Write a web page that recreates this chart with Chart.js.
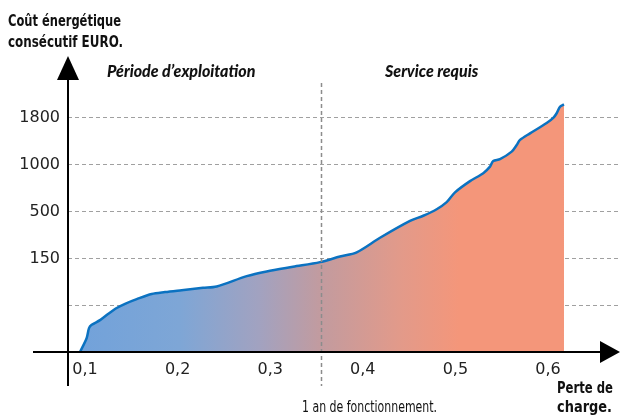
<!DOCTYPE html>
<html lang="fr">
<head>
<meta charset="utf-8">
<title>Coût énergétique consécutif</title>
<script src="https://cdn.jsdelivr.net/npm/chart.js@4/dist/chart.umd.min.js"></script>
<style>
    html, body { margin: 0; padding: 0; background: #ffffff; }
    #wrap { width: 620px; height: 416px; }
</style>
</head>
<body>
<div id="wrap"><canvas id="chart" width="620" height="416"></canvas></div>
<script>
/*
|--------------------------------------------------------------------------
| Coût énergétique / perte de charge
|--------------------------------------------------------------------------
|
| Courbe en aire, axe Y en paliers (150, 500, 1000, 1800).
|
*/

// abscisses : perte de charge
const perteDeCharge = [
    0.0946, 0.1018, 0.1043, 0.1072, 0.1162, 0.1248, 0.1342, 0.1432, 0.1558, 0.1720,
    0.1864, 0.2044, 0.2274, 0.2422, 0.2746, 0.2962, 0.3246, 0.3538, 0.3754, 0.3934,
    0.4186, 0.4510, 0.4653, 0.4798, 0.4906, 0.4996, 0.5158, 0.5301, 0.5374, 0.5409,
    0.5482, 0.5608, 0.5662, 0.5698, 0.5806, 0.5986, 0.6057, 0.6094, 0.6130, 0.6173
];

// ordonnées : position sur l'échelle en paliers
const niveauCout = [
    0.00, 0.30, 0.51, 0.58, 0.68, 0.81, 0.94, 1.03, 1.13, 1.24,
    1.28, 1.32, 1.37, 1.40, 1.62, 1.72, 1.82, 1.92, 2.04, 2.13,
    2.44, 2.80, 2.91, 3.05, 3.20, 3.41, 3.65, 3.82, 3.96, 4.08,
    4.12, 4.28, 4.42, 4.53, 4.67, 4.89, 5.00, 5.10, 5.24, 5.29
];

const xTicks = [0.1, 0.2, 0.3, 0.4, 0.5, 0.6];
const xTickLabels = ["0,1", "0,2", "0,3", "0,4", "0,5", "0,6"];

const yTicks = [0, 1, 2, 3, 4, 5];
const yTickLabels = ["", "", "150", "500", "1000", "1800"];

const unAnDeFonctionnement = 0.355;

const NARROW = '"Liberation Sans Narrow", "DejaVu Sans Condensed", "Arial Narrow", sans-serif';

function degradeRemplissage(context) {

    const chart = context.chart;

    if (!chart.chartArea) return "#76a3d8";

    const x = chart.scales.x;
    const x0 = x.getPixelForValue(perteDeCharge[0]);
    const x1 = x.getPixelForValue(perteDeCharge[perteDeCharge.length - 1]);

    const g = chart.ctx.createLinearGradient(x0, 0, x1, 0);

    g.addColorStop(0, "#72a2da");
    g.addColorStop(0.206, "#7ea6d6");
    g.addColorStop(0.371, "#a2a2c0");
    g.addColorStop(0.497, "#c29b9f");
    g.addColorStop(0.66, "#e29a8a");
    g.addColorStop(0.784, "#f4967a");
    g.addColorStop(1, "#f4967a");

    return g;

}

// axes fléchés, repère "1 an" et textes
const habillage = {

    id: "habillage",

    afterDatasetsDraw(chart) {

        const { ctx } = chart;
        const x = chart.scales.x;
        const px = Math.round(x.getPixelForValue(unAnDeFonctionnement)) + 0.5;

        ctx.save();
        ctx.strokeStyle = "#8c8c8c";
        ctx.lineWidth = 1.5;
        ctx.setLineDash([4, 3]);
        ctx.beginPath();
        ctx.moveTo(px, 83);
        ctx.lineTo(px, 386);
        ctx.stroke();
        ctx.restore();

    },

    afterDraw(chart) {

        const { ctx } = chart;
        const x = chart.scales.x;
        const y = chart.scales.y;

        const ox = x.left;
        const oy = y.getPixelForValue(0);

        ctx.save();

        // axes
        ctx.strokeStyle = "#000";
        ctx.fillStyle = "#000";
        ctx.lineWidth = 2;
        ctx.beginPath();
        ctx.moveTo(ox, 78);
        ctx.lineTo(ox, 386);
        ctx.moveTo(33, oy);
        ctx.lineTo(602, oy);
        ctx.stroke();

        ctx.beginPath();
        ctx.moveTo(ox, 56);
        ctx.lineTo(ox - 11, 80);
        ctx.lineTo(ox + 11, 80);
        ctx.closePath();
        ctx.fill();

        ctx.beginPath();
        ctx.moveTo(620, oy);
        ctx.lineTo(600, oy - 11);
        ctx.lineTo(600, oy + 11);
        ctx.closePath();
        ctx.fill();

        // textes
        ctx.fillStyle = "#111";
        ctx.textAlign = "left";
        ctx.textBaseline = "alphabetic";

        ctx.font = "bold 16px " + NARROW;
        ctx.fillText("Coût énergétique", 8, 26, 113);
        ctx.fillText("consécutif EURO.", 8, 47, 115);

        ctx.font = "italic 900 16px Lato, sans-serif";
        ctx.fillText("Période d’exploitation", 107, 77, 177);
        ctx.fillText("Service requis", 385, 77, 113);

        ctx.font = "15px " + NARROW;
        ctx.fillText("1 an de fonctionnement.", 302, 412, 135);

        ctx.font = "bold 15px " + NARROW;
        ctx.fillText("Perte de", 557, 393, 56);
        ctx.fillText("charge.", 557, 412, 55);

        ctx.restore();

    }

};

new Chart(document.getElementById("chart"), {

    type: "line",

    data: {

        datasets: [

            {

                data: perteDeCharge.map((v, i) => ({ x: v, y: niveauCout[i] })),

                borderColor: "#0b72c1",

                borderWidth: 2.5,

                backgroundColor: degradeRemplissage,

                fill: "origin",

                tension: 0.3,

                pointRadius: 0

            }

        ]

    },

    options: {

        responsive: false,

        animation: false,

        devicePixelRatio: 1,

        layout: {

            padding: { top: 58, right: 0, bottom: 0, left: 0 }

        },

        plugins: {

            legend: { display: false },

            tooltip: { enabled: false }

        },

        scales: {

            x: {

                type: "linear",

                min: 0.0816,

                max: 0.6778,

                afterBuildTicks(scale) {
                    scale.ticks = xTicks.map(v => ({ value: v }));
                },

                afterFit(scale) {
                    scale.height = 64;
                },

                grid: { display: false },

                border: { display: false },

                ticks: {

                    autoSkip: false,

                    maxRotation: 0,

                    padding: 0,

                    color: "#222",

                    font: { family: "DejaVu Sans", size: 16 },

                    callback: (value) => xTickLabels[xTicks.indexOf(value)] ?? ""

                }

            },

            y: {

                type: "linear",

                min: 0,

                max: 6.28,

                afterBuildTicks(scale) {
                    scale.ticks = yTicks.map(v => ({ value: v }));
                },

                afterFit(scale) {
                    scale.width = 68;
                },

                grid: {

                    color: "#a0a0a0",

                    lineWidth: 1,

                    drawTicks: false

                },

                border: { display: false, dash: [4, 3] },

                ticks: {

                    padding: 8,

                    color: "#222",

                    font: { family: "DejaVu Sans", size: 16 },

                    callback: (value) => yTickLabels[yTicks.indexOf(value)] ?? ""

                }

            }

        }

    },

    plugins: [habillage]

});
</script>
</body>
</html>
